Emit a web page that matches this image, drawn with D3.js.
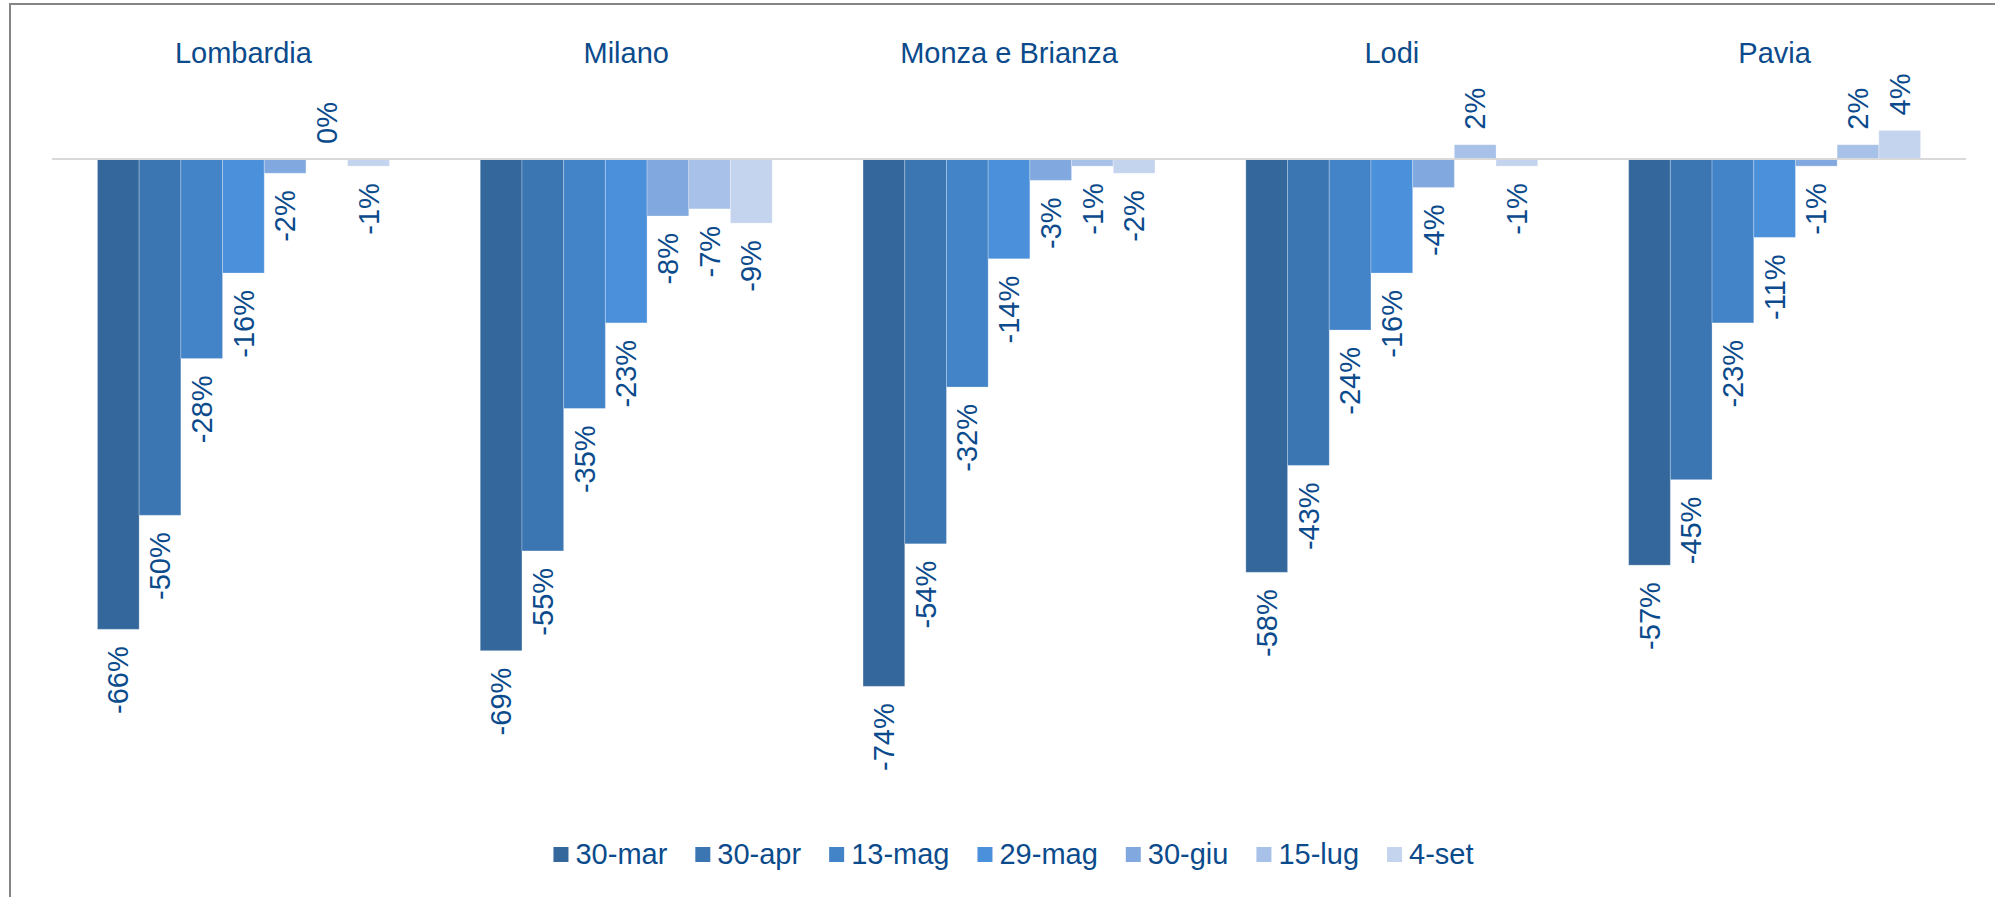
<!DOCTYPE html>
<html>
<head>
<meta charset="utf-8">
<script src="https://cdn.jsdelivr.net/npm/d3@7"></script>
<style>
  html, body { margin: 0; padding: 0; background: #fff; }
  svg { display: block; }
  text { font-family: "Liberation Sans", Arial, sans-serif; fill: #0b4b8c; }
</style>
</head>
<body>
<svg id="chart" width="1995" height="897"></svg>
<script>
// Provinces (chart groups)
const areas = ["Lombardia", "Milano", "Monza e Brianza", "Lodi", "Pavia"];
// Survey dates (series)
const dates = ["30-mar", "30-apr", "13-mag", "29-mag", "30-giu", "15-lug", "4-set"];
// Percentage change per area, one array per date
const s30mar = [-66, -69, -74, -58, -57];
const s30apr = [-50, -55, -54, -43, -45];
const s13mag = [-28, -35, -32, -24, -23];
const s29mag = [-16, -23, -14, -16, -11];
const s30giu = [-2, -8, -3, -4, -1];
const s15lug = [0, -7, -1, 2, 2];
const s4set  = [-1, -9, -2, -1, 4];

const seriesValues = [s30mar, s30apr, s13mag, s29mag, s30giu, s15lug, s4set];
const colors = ["#34679b", "#3b76b3", "#4383c7", "#4b90db", "#82a9df", "#a8c1e8", "#c4d4ee"];

const svg = d3.select("#chart");
const FONT = 29;

// Outer frame (only left and top edges fall inside the view)
svg.append("rect")
  .attr("x", 10).attr("y", 4)
  .attr("width", 2100).attr("height", 1000)
  .attr("fill", "none").attr("stroke", "#858585").attr("stroke-width", 2);

const x0 = d3.scaleBand().domain(areas).range([52, 1966]).paddingInner(0).paddingOuter(0);
const x1 = d3.scaleBand().domain(dates).range([0, x0.bandwidth()]).paddingInner(0).paddingOuter(1.09);
const y = d3.scaleLinear().domain([-80, 10]).range([159 + 80 * 7.126, 159 - 10 * 7.126]);

const color = d3.scaleOrdinal().domain(dates).range(colors);

// Flatten to one record per bar
const records = [];
areas.forEach((a, i) => {
  dates.forEach((d, j) => {
    records.push({ area: a, date: d, value: seriesValues[j][i] });
  });
});

const plot = svg.append("g");

// Group titles
plot.selectAll("text.title")
  .data(areas)
  .join("text")
  .attr("class", "title")
  .attr("x", d => x0(d) + x0.bandwidth() / 2)
  .attr("y", 63)
  .attr("text-anchor", "middle")
  .attr("font-size", FONT)
  .text(d => d);

// Bars
plot.selectAll("rect.bar")
  .data(records)
  .join("rect")
  .attr("class", "bar")
  .attr("x", d => x0(d.area) + x1(d.date))
  .attr("width", x1.bandwidth())
  .attr("y", d => Math.min(y(d.value), y(0)))
  .attr("height", d => Math.abs(y(d.value) - y(0)))
  .attr("fill", d => color(d.date))
  .attr("stroke", "rgba(255,255,255,0.25)")
  .attr("stroke-width", 1);

// Zero baseline
plot.append("line")
  .attr("x1", 52).attr("x2", 1966)
  .attr("y1", y(0)).attr("y2", y(0))
  .attr("stroke", "#d9d9d9").attr("stroke-width", 2);

// Rotated value labels at the outer end of each bar
plot.selectAll("text.label")
  .data(records)
  .join("text")
  .attr("class", "label")
  .attr("font-size", FONT)
  .attr("text-anchor", d => d.value >= 0 ? "start" : "end")
  .attr("dy", "0.35em")
  .attr("transform", d => {
    const cx = x0(d.area) + x1(d.date) + x1.bandwidth() / 2;
    const cy = d.value >= 0 ? y(d.value) - 15 : y(d.value) + 17;
    return `translate(${cx},${cy}) rotate(-90)`;
  })
  .text(d => d.value + "%");

// Legend
const legend = svg.append("g");
const items = legend.selectAll("g.item").data(dates).join("g").attr("class", "item");
items.append("rect")
  .attr("width", 15).attr("height", 15)
  .attr("y", 847)
  .attr("fill", d => color(d));
items.append("text")
  .attr("x", 22)
  .attr("y", 864)
  .attr("font-size", FONT)
  .text(d => d);

let cursor = 0;
const widths = [];
items.each(function () {
  const w = d3.select(this).select("text").node().getComputedTextLength();
  widths.push(22 + w);
});
const gap = 28;
const total = d3.sum(widths) + gap * (widths.length - 1);
let start = 1013.5 - total / 2;
items.attr("transform", (d, i) => {
  const t = `translate(${start},0)`;
  start += widths[i] + gap;
  return t;
});
</script>
</body>
</html>
